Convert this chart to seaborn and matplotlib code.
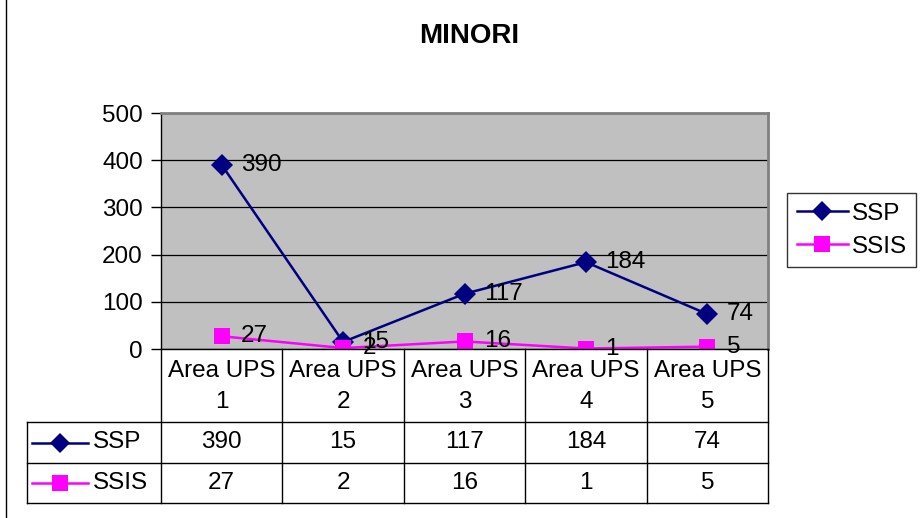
import pandas as pd
import matplotlib.pyplot as plt
import seaborn as sns
from matplotlib.lines import Line2D
from matplotlib.transforms import blended_transform_factory

# data
categories = ["Area UPS 1", "Area UPS 2", "Area UPS 3", "Area UPS 4", "Area UPS 5"]
ssp = [390, 15, 117, 184, 74]
ssis = [27, 2, 16, 1, 5]
series_names = ["SSP", "SSIS"]
colors = {"SSP": "#000080", "SSIS": "#FF00FF"}
markers = {"SSP": "D", "SSIS": "s"}

df = pd.DataFrame({
    "pos": list(range(len(categories))) * 2,
    "value": ssp + ssis,
    "series": ["SSP"] * len(ssp) + ["SSIS"] * len(ssis),
})

plt.rcParams["font.family"] = ["Liberation Sans", "DejaVu Sans"]
FS = 17.5

W, H = 921, 518
def fr(x0, y0, x1, y1):
    return [x0 / W, 1 - y1 / H, (x1 - x0) / W, (y1 - y0) / H]

fig = plt.figure(figsize=(9.21, 5.18), dpi=100)
ax = fig.add_axes(fr(161, 113, 768, 349))
ax.set_facecolor("#C0C0C0")

sns.lineplot(data=df, x="pos", y="value", hue="series", style="series",
             hue_order=series_names, style_order=series_names,
             palette=colors, markers=markers, dashes=False, markersize=11,
             markeredgewidth=0, linewidth=1.8, legend=False, ax=ax)

ax.set_xlim(-0.5, len(categories) - 0.5)
ax.set_ylim(0, 500)
ax.set_yticks(range(0, 501, 100))
ax.set_xticks([])
ax.set_xlabel("")
ax.set_ylabel("")
ax.grid(axis="y", color="black", linewidth=0.9)
ax.set_axisbelow(True)
ax.tick_params(axis="y", direction="out", length=7, width=1, labelsize=FS, pad=6)
for s in ["left", "bottom"]:
    ax.spines[s].set_color("black")
    ax.spines[s].set_linewidth(1)
for s in ["top", "right"]:
    ax.spines[s].set_color("#808080")
    ax.spines[s].set_linewidth(2)

# value labels
for name, vals in zip(series_names, [ssp, ssis]):
    for i, v in enumerate(vals):
        ax.annotate(str(v), (i, v), xytext=(14, 0), textcoords="offset points",
                    ha="left", va="center", fontsize=FS, color="black",
                    annotation_clip=False, zorder=5)

# overlay for table / frame
ov = fig.add_axes([0, 0, 1, 1])
ov.set_xlim(0, W)
ov.set_ylim(H, 0)
ov.set_axis_off()
tr = blended_transform_factory(ax.transData, ov.transData)

n = len(categories)
y_top, y_hdr, y_r1, y_r2 = 349, 422, 463, 503
for i in range(n + 1):
    ov.plot([i - 0.5, i - 0.5], [y_top, y_r2], color="black", lw=1, transform=tr)
ov.plot([27, 27], [y_hdr, y_r2], color="black", lw=1)
for y in [y_hdr, y_r1, y_r2]:
    ov.plot([27, 768], [y, y], color="black", lw=1)

for i, c in enumerate(categories):
    head, num = c.rsplit(" ", 1)
    ov.text(i, (y_top + y_hdr) / 2 + 1, head + "\n" + num, transform=tr,
            ha="center", va="center", fontsize=FS, linespacing=1.5)
for row_vals, (ya, yb) in zip([ssp, ssis], [(y_hdr, y_r1), (y_r1, y_r2)]):
    for i, v in enumerate(row_vals):
        ov.text(i, (ya + yb) / 2, str(v), transform=tr,
                ha="center", va="center", fontsize=FS)

# table legend keys
for name, (ya, yb) in zip(series_names, [(y_hdr, y_r1), (y_r1, y_r2)]):
    yc = (ya + yb) / 2
    ov.plot([32, 88], [yc, yc], color=colors[name], lw=1.8)
    ov.plot([60], [yc], marker=markers[name], color=colors[name],
            markersize=10 if name == "SSP" else 11, markeredgewidth=0)
    ov.text(93, yc, name, ha="left", va="center", fontsize=FS)

# left frame line
ov.plot([6, 6], [0, H], color="black", lw=1)

# title
fig.text(469 / W, 1 - 36 / H, "MINORI", ha="center", va="center",
         fontsize=20, fontweight="bold")

# legend
handles = [Line2D([], [], color=colors[s], marker=markers[s], lw=1.8,
                  markersize=10 if s == "SSP" else 11, markeredgewidth=0)
           for s in series_names]
leg = fig.legend(handles, series_names, loc="upper left",
                 bbox_to_anchor=(787 / W, 1 - 193 / H), fontsize=FS,
                 frameon=True, fancybox=False, edgecolor="black",
                 handlelength=2.1, handletextpad=0.15, borderpad=0.4,
                 labelspacing=0.45, borderaxespad=0)
leg.get_frame().set_linewidth(1)

fig.savefig("out.png", dpi=100)
